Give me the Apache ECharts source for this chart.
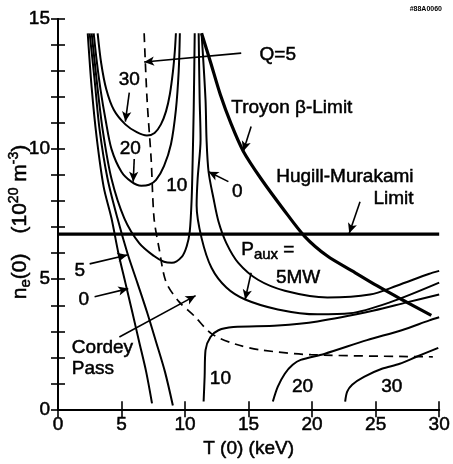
<!DOCTYPE html>
<html><head><meta charset="utf-8">
<script src="https://cdn.jsdelivr.net/npm/echarts@6/dist/echarts.min.js"></script>
<style>html,body{margin:0;padding:0;background:#fff}#c{width:453px;height:464px}</style>
</head><body><div id="c"></div>
<script>
// ---- data (T in keV, n in 1e20 m^-3) ----
const xMin = 0, xMax = 30, xStep = 5;
const yMin = 0, yMax = 15, yStep = 1;
// Paux contours, left (low-T) family
const paux0Left  = [[2.34,14.45],[2.65,12.36],[3.04,10.46],[3.59,8.56],[4.21,7.34],[4.75,6.01],[5.3,4.87],[5.85,3.73],[6.39,2.59],[6.94,1.44],[7.4,0.23]];
const paux5Left  = [[2.49,14.45],[2.88,12.66],[3.27,10.76],[3.9,8.86],[4.68,7.34],[5.46,6.01],[6.24,4.87],[7.01,3.73],[7.72,2.59],[8.42,1.44],[9.04,0.15]];
const paux10Upper = [[2.65,14.45],[3.04,12.66],[3.51,10.76],[4.21,8.86],[5.22,7.34],[6.39,6.39],[7.56,5.89],[8.34,5.67],[8.96,5.63],[9.74,5.86],[10.13,6.27],[10.37,6.84],[10.52,8.1],[10.6,9.62],[10.68,11.52],[10.76,14.45]];
const paux20Upper = [[2.81,14.45],[3.04,13.42],[3.35,12.28],[3.74,11.14],[4.21,10.0],[4.99,9.13],[5.77,8.75],[6.55,8.59],[7.17,8.63],[7.72,8.82],[8.34,9.35],[8.89,10.19],[9.28,11.52],[9.5,13.0],[9.59,14.45]];
const paux30Upper = [[3.12,14.45],[3.4,13.3],[3.8,12.3],[4.4,11.5],[5.3,10.95],[6.2,10.65],[7.0,10.52],[7.6,10.62],[8.1,10.95],[8.5,11.45],[8.8,12.1],[9.05,13.0],[9.2,13.8],[9.28,14.45]];
// Paux contours, right (high-T) family
const paux0Right = [[11.3,14.45],[11.61,11.9],[11.69,10.38],[11.85,9.13],[12.24,8.1],[12.63,7.22],[13.25,6.39],[14.19,5.63],[15.74,4.98],[17.85,4.56],[21.2,4.3],[24.55,4.41],[26.66,4.75],[29.23,5.21],[30,5.32]];
const paux5Right = [[11.07,14.45],[11.15,11.9],[11.22,10.38],[10.99,8.86],[10.91,7.83],[11.3,6.58],[12.08,5.44],[13.25,4.68],[14.73,4.22],[17.3,3.84],[20.42,3.65],[22.99,3.69],[26.11,4.11],[30,4.87]];
const paux10Lower = [[11.46,0.3],[11.54,1.25],[11.61,2.28],[12.0,2.78],[12.63,3.04],[13.8,3.16],[17.3,3.22],[20.42,3.38],[24.86,3.8],[27.44,4.11],[30,4.41]];
const paux20Lower = [[16.91,0.3],[17.3,0.87],[17.85,1.37],[18.47,1.71],[19.1,1.9],[20.96,2.13],[24.32,2.66],[27.05,3.04],[29.23,3.42],[30,3.54]];
const paux30Lower = [[22.6,0.3],[22.76,0.68],[23.15,0.95],[24.08,1.25],[25.49,1.56],[26.89,1.75],[28.21,2.02],[29.93,2.36]];
// Q = 5 contour (dashed)
const qFive = [[6.78,14.45],[7.01,11.9],[7.33,9.62],[7.56,7.34],[7.95,6.2],[8.5,4.9],[9.5,4.15],[10.7,3.6],[12.1,2.9],[14.0,2.5],[16.0,2.28],[19.9,2.1],[29.5,2.02]];
// Limits
const troyonLimit = [[11.3,14.45],[12.0,13.35],[12.78,12.09],[13.64,10.95],[14.58,9.92],[15.98,8.86],[17.69,7.72],[19.41,6.65],[21.2,5.89],[23.15,5.32],[25.1,4.75],[27.05,4.22],[29.38,3.61]];
const hugillLimit = [[0,6.73],[30,6.73]];

// annotation texts: [text, T, n, align]
const labelTexts = [
  ['30', 5.61, 12.66, 'center'],
  ['20', 5.69, 10.0, 'center'],
  ['10', 9.35, 8.59, 'center'],
  ['0', 14.11, 8.37, 'center'],
  ['5', 1.71, 5.32, 'center'],
  ['0', 2.03, 4.22, 'center'],
  ['Cordey', 1.09, 2.36, 'left'],
  ['Pass', 1.09, 1.56, 'left'],
  ['Q=5', 17.3, 13.61, 'center'],
  ['Troyon β-Limit', 13.64, 11.6, 'left'],
  ['Hugill-Murakami', 27.98, 8.94, 'right'],
  ['Limit', 27.98, 8.1, 'right'],
  ['{p|P}{s|aux}{p| =}', 14.42, 6.08, 'left'],
  ['5MW', 17.15, 5.06, 'left'],
  ['10', 12.78, 1.18, 'center'],
  ['20', 19.25, 0.87, 'center'],
  ['30', 26.27, 0.87, 'center']
];
// annotation arrows: [from, to]
const arrowPairs = [
  [[5.61,12.17],[5.3,11.06]],
  [[6.0,9.62],[5.92,8.75]],
  [[13.41,8.75],[11.85,9.13]],
  [[2.49,5.59],[5.46,5.93]],
  [[2.88,4.33],[5.53,4.64]],
  [[4.83,2.78],[10.83,4.37]],
  [[14.42,13.69],[6.78,13.35]],
  [[15.2,10.87],[14.58,9.92]],
  [[23.77,7.98],[22.92,6.77]],
  [[15.2,5.25],[14.73,4.22]]
];

const FONT = '"Liberation Sans", Arial, Helvetica, sans-serif';
const chart = echarts.init(document.getElementById('c'), null, {renderer:'canvas'});

function curve(data, opts) {
  return Object.assign({
    type:'line', data:data, showSymbol:false, symbol:'none', smooth:0.3,
    lineStyle:{color:'#000', width:2}, silent:true, z:3
  }, opts || {});
}

const axisLine = {show:true, lineStyle:{color:'#000', width:2}};
const tickFont = {fontSize:19, color:'#000', fontFamily:FONT, textBorderColor:'#000', textBorderWidth:0.5};
chart.setOption({
  animation:false,
  backgroundColor:'#fff',
  grid:{left:58, top:19, right:10, bottom:51, containLabel:false},
  xAxis:[
    {type:'value', min:xMin, max:xMax, interval:xStep, position:'bottom',
     axisLine:axisLine, axisTick:{inside:true, length:8, lineStyle:{color:'#000', width:1.6}},
     axisLabel:Object.assign({margin:6}, tickFont),
     splitLine:{show:false},
     name:'T (0) (keV)', nameLocation:'middle', nameGap:25,
     nameTextStyle:Object.assign({}, tickFont)},
    {type:'value', min:xMin, max:xMax, interval:xStep, position:'top',
     axisLine:axisLine, axisTick:{inside:true, length:8, lineStyle:{color:'#000', width:1.6}},
     axisLabel:{show:false}, splitLine:{show:false}}
  ],
  yAxis:[
    {type:'value', min:yMin, max:yMax, interval:yStep, position:'left',
     axisLine:axisLine, axisTick:{inside:true, length:7, lineStyle:{color:'#000', width:1.6}},
     axisLabel:Object.assign({margin:8,
       formatter:function(v){return v % 5 === 0 ? String(v) : '';}}, tickFont),
     splitLine:{show:false}},
    {type:'value', min:yMin, max:yMax, interval:yStep, position:'right',
     axisLine:axisLine, axisTick:{inside:true, length:7, lineStyle:{color:'#000', width:1.6}},
     axisLabel:{show:false}, splitLine:{show:false}}
  ],
  series:[
    curve(paux0Left), curve(paux5Left), curve(paux10Upper), curve(paux20Upper), curve(paux30Upper),
    curve(paux0Right), curve(paux5Right), curve(paux10Lower), curve(paux20Lower), curve(paux30Lower),
    curve(qFive, {lineStyle:{color:'#000', width:1.7, type:[9,6]}}),
    curve(troyonLimit, {lineStyle:{color:'#000', width:3.2}}),
    curve(hugillLimit, {smooth:false, lineStyle:{color:'#000', width:3.2},
      markLine:{silent:true, symbol:['none','arrow'], symbolSize:[7,10], animation:false,
        lineStyle:{color:'#000', width:1.6, type:'solid'}, label:{show:false},
        data: arrowPairs.map(function(p){return [{coord:p[0]},{coord:p[1]}];})}})
  ]
});

const bw = 0.5;
const graphics = labelTexts.map(function(l){
  const px = chart.convertToPixel({gridIndex:0}, [l[1], l[2]]);
  return {type:'text', x:px[0], y:px[1], z:10, silent:true,
    style:{text:l[0], fill:'#000', font:'19px ' + FONT, align:l[3], verticalAlign:'middle',
      stroke:'#000', lineWidth:bw,
      rich:{p:{fontSize:19, fontFamily:FONT, fill:'#000', stroke:'#000', lineWidth:bw, verticalAlign:'top', lineHeight:22},
            s:{fontSize:15, fontFamily:FONT, fill:'#000', stroke:'#000', lineWidth:bw, verticalAlign:'bottom', lineHeight:15}}}};
});
graphics.push({type:'text', x:20, y:222, rotation:Math.PI/2, z:10, silent:true,
  style:{text:'{a|n}{s|e}{a|(0)}      {a|(10}{p|20}{a| m}{p|-3}{a|)}', align:'center', verticalAlign:'middle',
    rich:{a:{fontSize:21, fontFamily:FONT, fill:'#000', stroke:'#000', lineWidth:bw, lineHeight:26, verticalAlign:'middle'},
          s:{fontSize:15, fontFamily:FONT, fill:'#000', stroke:'#000', lineWidth:bw, lineHeight:15, verticalAlign:'bottom'},
          p:{fontSize:14, fontFamily:FONT, fill:'#000', stroke:'#000', lineWidth:bw, lineHeight:14, verticalAlign:'top'}}}});
graphics.push({type:'text', x:442, y:9, z:10, silent:true,
  style:{text:'#88A0060', fill:'#000', font:'bold 7px ' + FONT, align:'right', verticalAlign:'middle'}});
chart.setOption({graphic:graphics});
</script>
</body></html>
